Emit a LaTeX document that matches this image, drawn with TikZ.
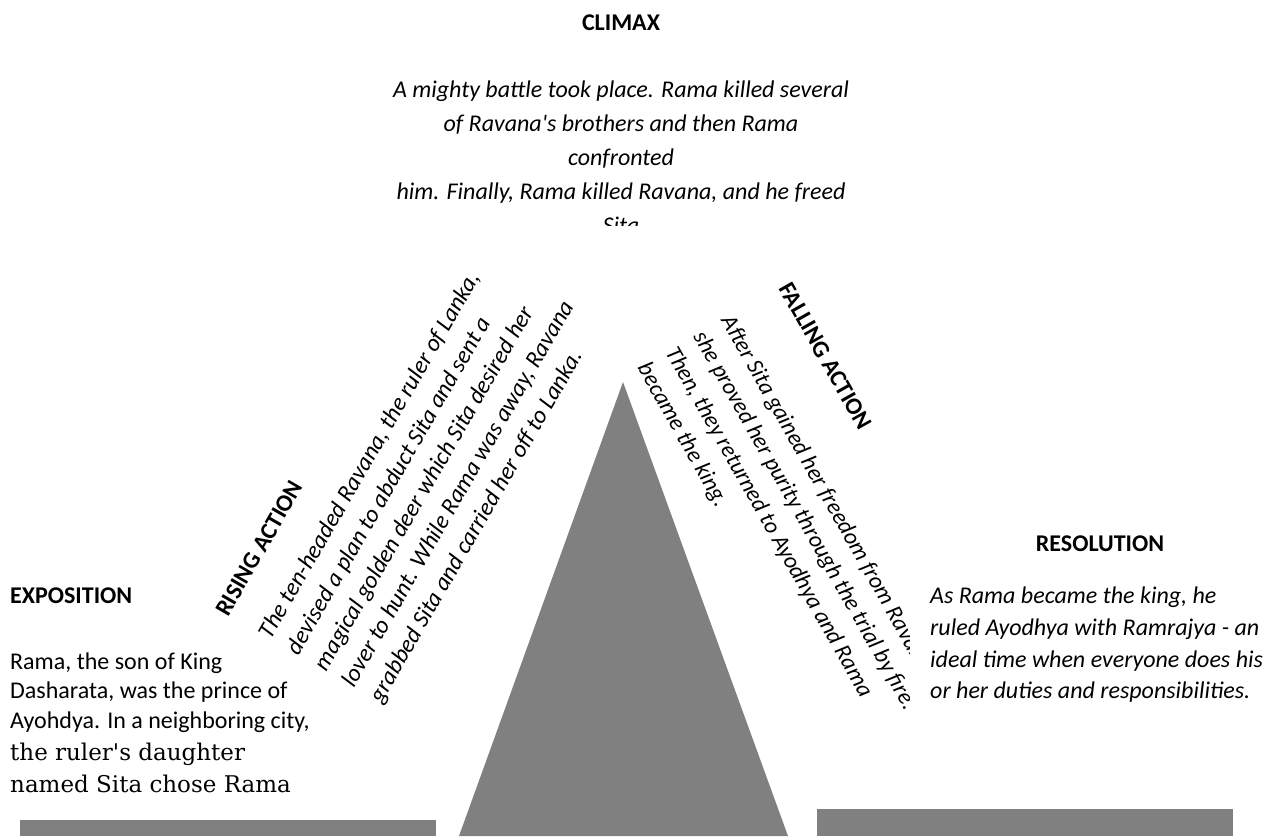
\documentclass[tikz,border=0pt]{standalone}
\usepackage{fontspec}
\setmainfont{Carlito}
\newfontfamily\oldserif{DejaVu Serif}
\usetikzlibrary{positioning}

\newcommand{\storysize}{\fontsize{24}{32}\selectfont}

\tikzset{
    heading/.style={font=\storysize\bfseries, inner sep=0pt},
    story/.style={font=\storysize\itshape, inner sep=0pt},
    plain/.style={font=\storysize, inner sep=0pt},
    oldline/.style={font=\oldserif\fontsize{23}{32}\selectfont, inner sep=0pt},
    block/.style={fill=gray, draw=none}
}

\begin{document}
\begin{tikzpicture}[x=1pt, y=-1pt]
\useasboundingbox (0,0) rectangle (1273,836);

% Gray shapes
\coordinate (apex) at (623,382);
\coordinate (footl) at (459,836);
\coordinate (footr) at (788,836);
\fill[block] (apex) -- (footl) -- (footr) -- cycle;
\fill[block] (20,820) rectangle (436,836);
\fill[block] (817,809) rectangle (1233,836);

% Climax
\node[heading, anchor=base] (climax) at (621,30) {CLIMAX};
\begin{scope}
    \clip (300,0) rectangle (950,225);
    \foreach \y/\txt [count=\i] in {97/{A mighty battle took place. Rama killed several},
        131/{of Ravana\textquotesingle s brothers and then Rama},
        165/{confronted},
        199/{him. Finally, Rama killed Ravana, and he freed},
        233/{Sita}}
    {
        \node[story, anchor=base] (climax\i) at (621,\y) {\txt};
    }
\end{scope}

% Exposition
\node[heading, anchor=base west] (expo) at (10,603) {EXPOSITION};
\foreach \y/\txt [count=\i] in {669/{Rama, the son of King},
    698.5/{Dasharata, was the prince of},
    728/{Ayohdya. In a neighboring city,}}
{
    \node[plain, anchor=base west] (expo\i) at (10,\y) {\txt};
}
\node[oldline, anchor=base west] (expo4) at (10,760) {the ruler\textquotesingle s daughter};
\node[oldline, anchor=base west] (expo5) at (10,792) {named Sita chose Rama};

% Rising action
\begin{scope}[shift={(228,618)}, rotate=60, transform shape]
    \node[heading, anchor=base west] (rising) at (0,0) {RISING ACTION};
    \foreach \txt [count=\i] in {{The ten-headed Ravana, the ruler of Lanka,},
        {devised a plan to abduct Sita and sent a},
        {magical golden deer which Sita desired her},
        {lover to hunt. While Rama was away, Ravana},
        {grabbed Sita and carried her off to Lanka.}}
    {
        \node[story, anchor=base west] (rising\i) at (2,16+32*\i) {\txt};
    }
\end{scope}

% Falling action
\begin{scope}
    \clip (600,250) rectangle (909,800);
    \begin{scope}[shift={(778,288)}, rotate=-60.5, transform shape]
        \node[heading, anchor=base west] (falling) at (0,0) {FALLING ACTION};
        \foreach \txt [count=\i] in {{After Sita gained her freedom from Ravana,},
            {she proved her purity through the trial by fire.},
            {Then, they returned to Ayodhya and Rama},
            {became the king.}}
        {
            \node[story, font=\fontsize{23.3}{32}\selectfont\itshape, anchor=base west] (falling\i) at (0,34+32*\i) {\txt};
        }
    \end{scope}
\end{scope}

% Resolution
\node[heading, anchor=base] (resol) at (1100,551) {RESOLUTION};
\foreach \y/\txt [count=\i] in {603/{As Rama became the king, he},
    635/{ruled Ayodhya with Ramrajya - an},
    667/{ideal time when everyone does his},
    698/{or her duties and responsibilities.}}
{
    \node[story, anchor=base west] (resol\i) at (930,\y) {\txt};
}

\end{tikzpicture}
\end{document}
